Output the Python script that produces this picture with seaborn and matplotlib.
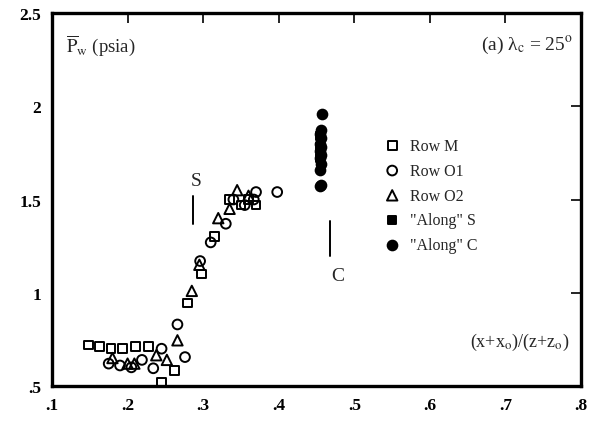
import matplotlib
matplotlib.use("Agg")
import matplotlib.pyplot as plt
import seaborn as sns
import pandas as pd

# Row M (open squares)
m_x = [0.148, 0.163, 0.178, 0.193, 0.210, 0.228, 0.245, 0.262, 0.279, 0.298, 0.315, 0.335, 0.350, 0.360, 0.370]
m_p = [0.72, 0.71, 0.70, 0.70, 0.71, 0.71, 0.52, 0.585, 0.945, 1.10, 1.30, 1.50, 1.47, 1.50, 1.47]

# Row O1 (open circles)
o1_x = [0.175, 0.190, 0.205, 0.219, 0.234, 0.245, 0.266, 0.276, 0.296, 0.310, 0.330, 0.340, 0.355, 0.367, 0.370, 0.398]
o1_p = [0.62, 0.61, 0.60, 0.64, 0.595, 0.70, 0.83, 0.655, 1.17, 1.27, 1.37, 1.50, 1.47, 1.50, 1.54, 1.54]

# Row O2 (open triangles)
o2_x = [0.180, 0.200, 0.209, 0.238, 0.252, 0.266, 0.285, 0.295, 0.320, 0.335, 0.345, 0.360]
o2_p = [0.65, 0.62, 0.62, 0.665, 0.64, 0.745, 1.01, 1.15, 1.40, 1.45, 1.55, 1.52]

# Row F (open diamonds)
f_x = []
f_p = []

# "Along" S (filled squares)
as_x = [0.455, 0.455, 0.455]
as_p = [1.72, 1.78, 1.84]

# "Along" C (filled circles)
ac_x = [0.455, 0.456, 0.455, 0.456, 0.455, 0.456, 0.455, 0.456, 0.455, 0.456, 0.455, 0.456, 0.457]
ac_p = [1.57, 1.58, 1.66, 1.69, 1.72, 1.74, 1.76, 1.78, 1.80, 1.83, 1.85, 1.87, 1.96]

x_ticks = [0.1, 0.2, 0.3, 0.4, 0.5, 0.6, 0.7, 0.8]
x_tick_labels = [".1", ".2", ".3", ".4", ".5", ".6", ".7", ".8"]
y_ticks = [0.5, 1.0, 1.5, 2.0, 2.5]
y_tick_labels = [".5", "1", "1.5", "2", "2.5"]

sns.set_theme(style="white")
plt.rcParams["font.family"] = ["Liberation Serif", "DejaVu Serif"]
plt.rcParams["mathtext.fontset"] = "stix"

fig = plt.figure(figsize=(5.91, 4.31), dpi=100)
ax = fig.add_axes([52 / 591, 44 / 431, 529 / 591, 373 / 431])

series = [
    ("Row M", m_x, m_p, "s", "none", 6.3),
    ("Row O1", o1_x, o1_p, "o", "none", 7),
    ("Row O2", o2_x, o2_p, "^", "none", 7.5),
    ("Row F", f_x, f_p, "D", "none", 5.5),
    ('"Along" S', as_x, as_p, "s", "black", 5.5),
    ('"Along" C', ac_x, ac_p, "o", "black", 7),
]

for label, xs, ps, mk, fc, ms in series:
    df = pd.DataFrame({"x": xs, "p": ps}, dtype=float)
    sns.scatterplot(
        data=df, x="x", y="p", ax=ax, marker=mk, s=ms ** 2,
        facecolors=fc, edgecolor="black", linewidth=1.4, label=label,
        zorder=3,
    )

ax.set_xlim(0.1, 0.8)
ax.set_ylim(0.5, 2.5)
ax.set_xticks(x_ticks)
ax.set_xticklabels(x_tick_labels)
ax.set_yticks(y_ticks)
ax.set_yticklabels(y_tick_labels)
ax.set_xlabel("")
ax.set_ylabel("")
ax.tick_params(axis="both", which="both", direction="in", length=7, width=1.2,
               top=True, right=True, labelsize=12.5, pad=8, colors="black")
for t in ax.get_xticklabels() + ax.get_yticklabels():
    t.set_fontweight("bold")
for sp in ax.spines.values():
    sp.set_linewidth(2.4)
    sp.set_color("black")

leg = ax.legend(loc="upper left", bbox_to_anchor=(0.628, 0.665), frameon=False,
                fontsize=11.5, borderpad=0, handlelength=1.0, handletextpad=0.6,
                labelspacing=0.55, borderaxespad=0)
for h in leg.legend_handles:
    h.set_edgecolor("black")

ax.text(0.118, 2.33, r"$\overline{\rm P}_{\rm w}$ (psia)", fontsize=13.5,
        ha="left", va="center")
ax.text(0.79, 2.33, r"(a) λ$_{\rm c}$ = 25$^{\rm o}$", fontsize=14,
        ha="right", va="center")
ax.text(0.785, 0.74, r"(x+x$_{\rm o}$)/(z+z$_{\rm o}$)", fontsize=13,
        ha="right", va="center")

# S and C marker lines
ax.text(0.291, 1.60, "S", fontsize=14, ha="center", va="center")
ax.plot([0.287, 0.287], [1.52, 1.37], color="black", linewidth=1.4)
ax.text(0.478, 1.09, "C", fontsize=14, ha="center", va="center")
ax.plot([0.468, 0.468], [1.385, 1.197], color="black", linewidth=1.4)

fig.savefig("out.png", dpi=100)
